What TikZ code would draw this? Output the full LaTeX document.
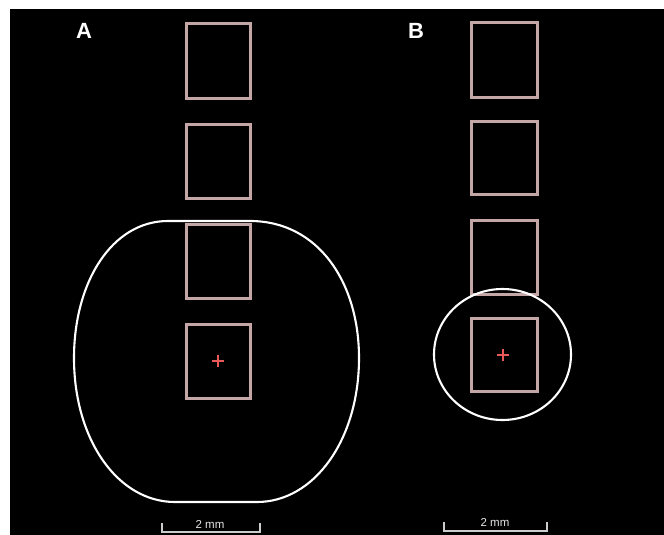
\documentclass[tikz,border=0pt]{standalone}
\usepackage{fontspec}
\setmainfont{Liberation Sans}
\begin{document}
\begin{tikzpicture}[x=1pt,y=-1pt,
  pad/.style={draw=padc,line width=3pt},
  outline/.style={draw=white,line width=2.1pt},
  crossmark/.style={draw=crossc,line width=1.4pt},
  scalebar/.style={draw=white!80!black,line width=1.4pt},
  lbl/.style={text=white,font=\fontsize{22}{22}\selectfont\bfseries,inner sep=0pt},
  sclbl/.style={text=white!90!black,font=\fontsize{11.5}{11.5}\selectfont,inner sep=0pt}]
\definecolor{padc}{HTML}{C4A6A6}
\definecolor{crossc}{HTML}{E85A5A}
\useasboundingbox (0,0) rectangle (664,535);
\fill[white] (0,0) rectangle (664,535);
\fill[black] (10,9) rectangle (664,535);
% panel A
\node[lbl] (la) at (84,31) {A};
\draw[pad] (186,24) rectangle (250,98);
\draw[pad] (186,124) rectangle (250,198);
\draw[pad] (186,224) rectangle (250,298);
\draw[pad] (186,324) rectangle (250,398);
\coordinate (ca) at (218,361);
\draw[crossmark] ([xshift=-6pt]ca) -- ([xshift=6pt]ca) ([yshift=-6pt]ca) -- ([yshift=6pt]ca);
\draw[outline] (250,221) -- (168,221) .. controls (112,221) and (74,282) .. (74,358)
  .. controls (74,440) and (118,502) .. (175,502) -- (257,502)
  .. controls (314,502) and (359,440) .. (359,358)
  .. controls (359,282) and (318,221) .. (250,221) -- cycle;
\coordinate (sa1) at (162,523);
\coordinate (sa2) at (260,523);
\draw[scalebar] (sa1) -- ++(0,9) -| (sa2);
\node[sclbl] (ta) at (210,524) {2 mm};
% panel B
\node[lbl] (lb) at (416,31) {B};
\draw[pad] (471,23) rectangle (537,97);
\draw[pad] (471,121) rectangle (537,194);
\draw[pad] (471,220) rectangle (537,294);
\draw[pad] (471,318) rectangle (537,391);
\coordinate (cb) at (503,355);
\draw[crossmark] ([xshift=-6pt]cb) -- ([xshift=6pt]cb) ([yshift=-6pt]cb) -- ([yshift=6pt]cb);
\draw[outline] (502.5,354.5) ellipse [x radius=68.5,y radius=65.5];
\coordinate (sb1) at (444,522);
\coordinate (sb2) at (547,522);
\draw[scalebar] (sb1) -- ++(0,9) -| (sb2);
\node[sclbl] (tb) at (495,522) {2 mm};
\end{tikzpicture}
\end{document}
